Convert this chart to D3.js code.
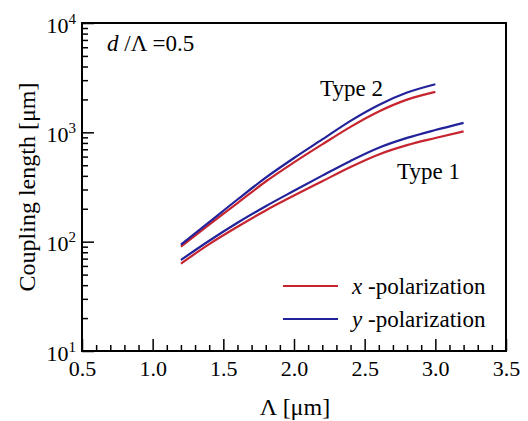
<!DOCTYPE html>
<html lang="en">
<head>
	<meta charset="UTF-8">
	<title>Coupling length</title>
	<script src="https://d3js.org/d3.v7.min.js"></script>
	<style>
		body{
			margin:0;
			background:white;
		}
		svg{
			display:block;
		}
		text{
			font-family:"Liberation Serif","Times New Roman",serif !important;
		}
		.box{
			fill:none;
			stroke:black;
			stroke-width:2;
		}
		.axis path{
			display:none;
		}
		.axis line{
			stroke:black;
			stroke-width:1.5;
		}
		.curve{
			fill:none;
			stroke-width:2.2;
		}
	</style>
</head>
<body>
	<svg width="528" height="421"></svg>
	<script>
		// values, lambda in um, coupling length in um
		var lambda1 = [1.2,1.4,1.6,1.8,2.0,2.2,2.4,2.6,2.8,3.0,3.2];
		var lambda2 = [1.2,1.4,1.6,1.8,2.0,2.2,2.4,2.6,2.8,3.0];
		var type1X = [63,95,137,193,264,357,482,628,764,887,1019];
		var type1Y = [68,102,149,211,292,402,548,723,889,1050,1222];
		var type2X = [90,143,225,355,531,776,1122,1550,1990,2344];
		var type2Y = [94,151,243,385,582,861,1274,1780,2310,2754];

		var xTicks = [0.5,1.0,1.5,2.0,2.5,3.0,3.5];
		var yTicks = [10,100,1000,10000];

		var svg = d3.select("svg");
		var pL = 82, pR = 506, pT = 23, pB = 351;
		var serif = "'Liberation Serif','Times New Roman',serif";

		var x = d3.scaleLinear().domain([0.5,3.5]).range([pL,pR]);
		var y = d3.scaleLog().domain([10,10000]).range([pB,pT]);

		var xMinor = d3.range(5,36).map(d=>d/10).filter(d=>xTicks.indexOf(d)<0);
		var yMinor = [];
		yTicks.slice(0,3).forEach(function(p){
			for(var k=2;k<10;k++) yMinor.push(p*k);
		});

		// minor ticks
		svg.append("g").attr("class","axis")
			.attr("transform","translate(0,"+pB+")")
			.call(d3.axisBottom(x).tickValues(xMinor).tickSize(-6).tickFormat(""));
		svg.append("g").attr("class","axis")
			.attr("transform","translate("+pL+",0)")
			.call(d3.axisLeft(y).tickValues(yMinor).tickSize(-6).tickFormat(""));

		// major ticks
		var gx = svg.append("g").attr("class","axis")
			.attr("transform","translate(0,"+pB+")")
			.call(d3.axisBottom(x).tickValues(xTicks).tickSize(-12).tickPadding(9).tickFormat(d3.format(".1f")));
		gx.attr("font-family",serif).attr("font-size",22);
		gx.selectAll("text").attr("fill","black").style("font-family",serif);

		var gy = svg.append("g").attr("class","axis")
			.attr("transform","translate("+pL+",0)")
			.call(d3.axisLeft(y).tickValues(yTicks).tickSize(-12).tickFormat(""));
		gy.attr("font-family",serif).attr("font-size",22);
		gy.selectAll(".tick").append("text")
			.attr("x",-6)
			.attr("y",9)
			.attr("text-anchor","end")
			.attr("fill","black")
			.each(function(d){
				var t = d3.select(this);
				t.append("tspan").text("10");
				t.append("tspan").attr("font-size",15).attr("dy",-9).text(Math.round(Math.log10(d)));
			});

		svg.append("rect").attr("class","box")
			.attr("x",pL).attr("y",pT)
			.attr("width",pR-pL).attr("height",pB-pT);

		// curves
		var line = d3.line()
			.x(d=>x(d[0]))
			.y(d=>y(d[1]))
			.curve(d3.curveMonotoneX);

		var series = [
			{xs:lambda1,ys:type1X,color:"#c62530"},
			{xs:lambda1,ys:type1Y,color:"#22229a"},
			{xs:lambda2,ys:type2X,color:"#c62530"},
			{xs:lambda2,ys:type2Y,color:"#22229a"}
		];
		svg.selectAll("path.curve")
			.data(series)
			.enter().append("path")
			.attr("class","curve")
			.attr("stroke",d=>d.color)
			.attr("d",d=>line(d.xs.map((v,i)=>[v,d.ys[i]])));

		// labels
		svg.append("text")
			.attr("transform","translate(35,187) rotate(-90)")
			.attr("text-anchor","middle")
			.attr("font-size",24)
			.text("Coupling length [\u03bcm]");
		svg.append("text")
			.attr("x",295).attr("y",415)
			.attr("text-anchor","middle")
			.attr("font-size",24)
			.text("\u039b [\u03bcm]");

		var note = svg.append("text").attr("x",107).attr("y",51).attr("font-size",23);
		note.append("tspan").attr("font-style","italic").text("d");
		note.append("tspan").text(" /\u039b =0.5");

		svg.append("text").attr("x",320).attr("y",96).attr("font-size",23).text("Type 2");
		svg.append("text").attr("x",397).attr("y",179).attr("font-size",23).text("Type 1");

		// legend
		var legend = [
			{name:"x",color:"#c62530",yy:286},
			{name:"y",color:"#22229a",yy:319}
		];
		var lg = svg.selectAll("g.leg").data(legend).enter().append("g").attr("class","leg");
		lg.append("line")
			.attr("x1",283).attr("x2",338)
			.attr("y1",d=>d.yy).attr("y2",d=>d.yy)
			.attr("stroke",d=>d.color).attr("stroke-width",2);
		var lt = lg.append("text")
			.attr("x",352).attr("y",d=>d.yy+8)
			.attr("font-size",23);
		lt.append("tspan").attr("font-style","italic").text(d=>d.name);
		lt.append("tspan").text(" -polarization");
	</script>
</body>
</html>
